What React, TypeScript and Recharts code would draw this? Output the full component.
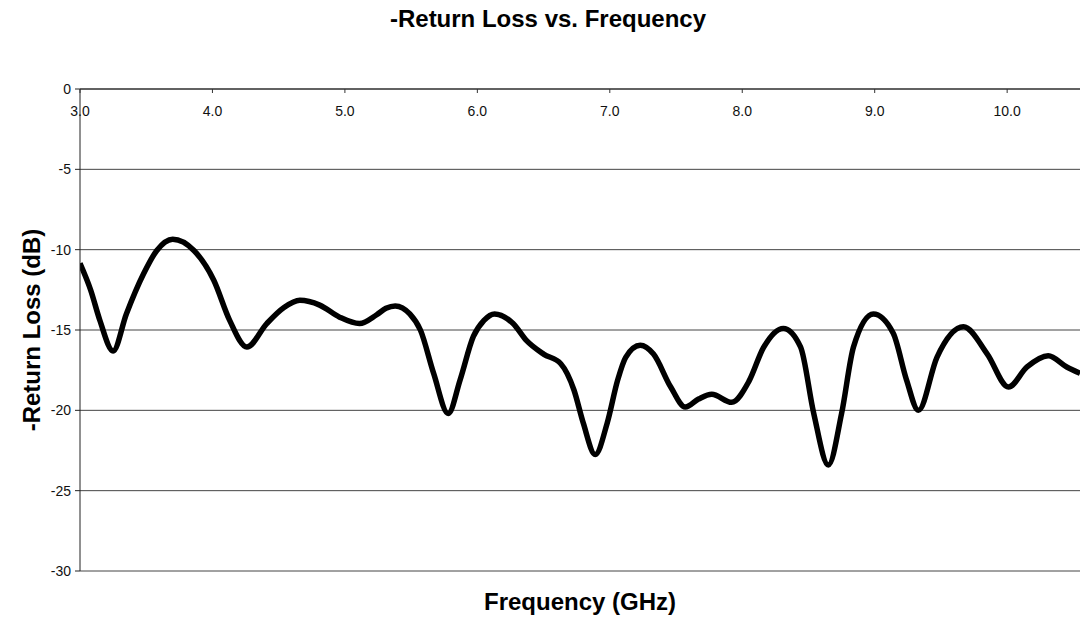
import { CartesianGrid, Label, Line, LineChart, XAxis, YAxis } from 'recharts'

// frequency (GHz) and -return loss (dB)
const freq = [
  3.0, 3.08, 3.15, 3.25, 3.35, 3.48, 3.58, 3.7, 3.86, 4.01, 4.13, 4.26, 4.41, 4.54, 4.66, 4.81,
  4.96, 5.11, 5.24, 5.31, 5.38, 5.49, 5.57, 5.67, 5.78, 5.87, 5.97, 6.05, 6.13, 6.27, 6.37, 6.5,
  6.63, 6.73, 6.8, 6.89, 6.98, 7.06, 7.12, 7.23, 7.33, 7.46, 7.57, 7.67, 7.77, 7.92, 8.05, 8.16,
  8.31, 8.44, 8.54, 8.65, 8.75, 8.84, 8.99, 9.14, 9.24, 9.33, 9.47, 9.67, 9.85, 10.01, 10.15,
  10.31, 10.45, 10.55,
]
const returnLoss = [
  -10.85, -12.5, -14.4, -16.3, -14.0, -11.5, -10.05, -9.35, -10.05, -11.9, -14.4, -16.06, -14.6,
  -13.6, -13.15, -13.45, -14.2, -14.6, -14.05, -13.65, -13.5, -14.0, -15.0, -17.7, -20.2, -18.1,
  -15.4, -14.4, -14.0, -14.6, -15.65, -16.5, -17.1, -18.75, -20.8, -22.75, -20.8, -18.1, -16.7,
  -15.95, -16.5, -18.55, -19.8, -19.3, -19.0, -19.5, -18.2, -16.1, -14.9, -16.05, -20.2, -23.4,
  -20.2, -16.05, -14.0, -15.2, -18.1, -20.0, -16.7, -14.8, -16.5, -18.55, -17.3, -16.6, -17.3,
  -17.7,
]
const freqTicks = [3, 4, 5, 6, 7, 8, 9, 10]
const dbTicks = [-30, -25, -20, -15, -10, -5, 0]

const data = freq.map((f, i) => ({ f, rl: returnLoss[i] }))

const FONT = '"Liberation Sans", Arial, Helvetica, sans-serif'

// labels sit under the top axis line, Excel style
function FreqTick({ x, y, payload }: any) {
  return (
    <g>
      <line x1={x} y1={y} x2={x} y2={y + 4} stroke="#333" />
      <text x={x} y={y + 27} textAnchor="middle" fontSize={14} fontFamily={FONT} fill="#111">
        {Number(payload.value).toFixed(1)}
      </text>
    </g>
  )
}

export default function App() {
  return (
    <div
      style={{
        position: 'absolute',
        left: 0,
        top: 0,
        width: 1080,
        height: 622,
        background: '#fff',
        fontFamily: FONT,
      }}
    >
      <div
        style={{
          position: 'absolute',
          top: 7,
          left: 8,
          width: 1080,
          textAlign: 'center',
          fontSize: 24,
          lineHeight: '24px',
          fontWeight: 'bold',
          color: '#000',
        }}
      >
        -Return Loss vs. Frequency
      </div>
      <LineChart
        width={1080}
        height={622}
        data={data}
        margin={{ top: 69, right: 0, bottom: 51, left: 0 }}
      >
        <CartesianGrid vertical={false} stroke="#444" />
        <XAxis
          dataKey="f"
          type="number"
          orientation="top"
          domain={[3, 10.55]}
          ticks={freqTicks}
          interval={0}
          allowDataOverflow
          height={20}
          tickSize={0}
          tickMargin={0}
          tickLine={false}
          axisLine={{ stroke: '#222' }}
          tick={<FreqTick />}
        />
        <YAxis
          type="number"
          domain={[-30, 0]}
          ticks={dbTicks}
          interval={0}
          width={80}
          tickSize={5}
          tickMargin={4}
          axisLine={{ stroke: '#222' }}
          tickLine={{ stroke: '#222' }}
          tick={{ fontSize: 14, fill: '#111', fontFamily: FONT }}
        >
          <Label
            value="-Return Loss (dB)"
            angle={-90}
            position="insideLeft"
            offset={31}
            style={{ textAnchor: 'middle', fontSize: 24, fontWeight: 'bold', fill: '#000', fontFamily: FONT }}
          />
        </YAxis>
        <Line
          dataKey="rl"
          type="monotone"
          stroke="#000"
          strokeWidth={5.5}
          strokeLinejoin="round"
          dot={false}
          isAnimationActive={false}
        />
      </LineChart>
      <div
        style={{
          position: 'absolute',
          top: 590,
          left: 80,
          width: 1000,
          textAlign: 'center',
          fontSize: 24,
          lineHeight: '24px',
          fontWeight: 'bold',
          color: '#000',
        }}
      >
        Frequency (GHz)
      </div>
    </div>
  )
}
